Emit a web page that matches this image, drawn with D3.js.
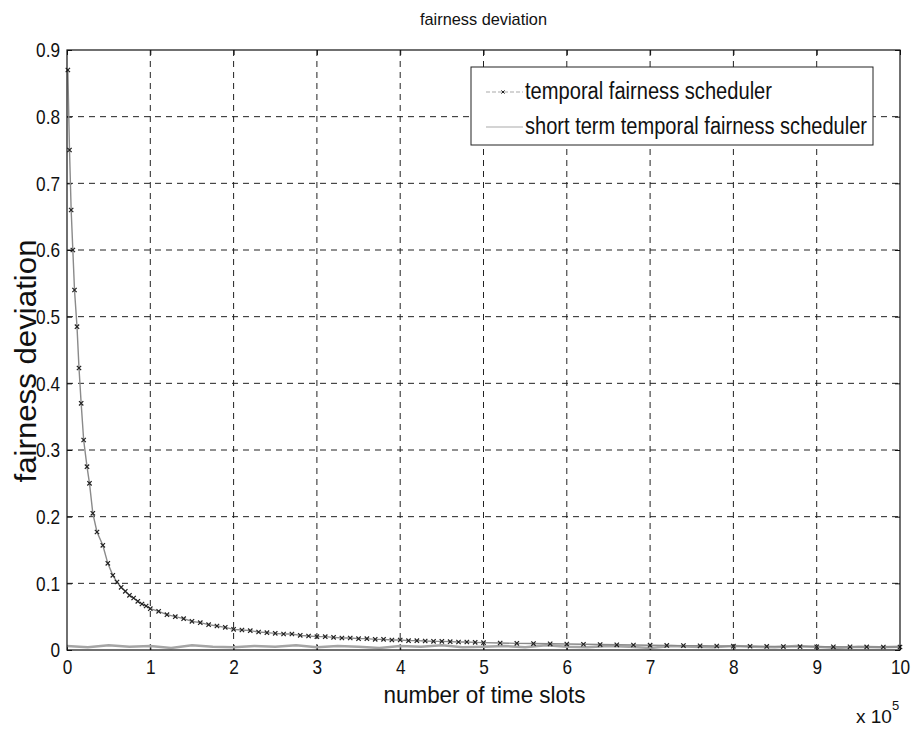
<!DOCTYPE html>
<html>
<head>
<meta charset="utf-8">
<script src="https://cdn.jsdelivr.net/npm/d3@7/dist/d3.min.js"></script>
<style>
  html, body { margin: 0; padding: 0; background: #fff; }
  svg { display: block; }
  text { font-family: "Liberation Sans", Arial, sans-serif; fill: #111; }
</style>
</head>
<body>
<svg id="chart" width="916" height="733"></svg>
<script>
// x in units of 1e5 time slots
const xTicks = [0, 1, 2, 3, 4, 5, 6, 7, 8, 9, 10];
const yTicks = [0, 0.1, 0.2, 0.3, 0.4, 0.5, 0.6, 0.7, 0.8, 0.9];
const yTickLabels = ["0", "0.1", "0.2", "0.3", "0.4", "0.5", "0.6", "0.7", "0.8", "0.9"];

// temporal fairness scheduler
const temporalX = [0.01, 0.03, 0.05, 0.07, 0.09, 0.12, 0.144, 0.17, 0.20, 0.24, 0.27, 0.31, 0.36, 0.43, 0.49, 0.55,
  0.6, 0.65, 0.7, 0.75, 0.8, 0.85, 0.9, 0.95, 1.0, 1.1, 1.2, 1.3, 1.4, 1.5, 1.6, 1.7, 1.8, 1.9, 2.0,
  2.1, 2.2, 2.3, 2.4, 2.5, 2.6, 2.7, 2.8, 2.9, 3.0, 3.1, 3.2, 3.3, 3.4, 3.5, 3.6, 3.7, 3.8, 3.9, 4.0,
  4.1, 4.2, 4.3, 4.4, 4.5, 4.6, 4.7, 4.8, 4.9, 5.0, 5.2, 5.4, 5.6, 5.8, 6.0, 6.2, 6.4, 6.6,
  6.8, 7.0, 7.2, 7.4, 7.6, 7.8, 8.0, 8.2, 8.4, 8.6, 8.8, 9.0, 9.2, 9.4, 9.6, 9.8, 10.0];
const temporalY = [0.87, 0.75, 0.66, 0.60, 0.54, 0.485, 0.423, 0.37, 0.315, 0.275, 0.25, 0.205, 0.177, 0.157, 0.13, 0.112,
  0.102, 0.094, 0.088, 0.082, 0.078, 0.073, 0.069, 0.066, 0.062, 0.058, 0.053, 0.050, 0.047, 0.043, 0.041, 0.038, 0.036, 0.034, 0.031,
  0.030, 0.029, 0.027, 0.026, 0.025, 0.024, 0.024, 0.022, 0.021, 0.020, 0.020, 0.019, 0.018, 0.018, 0.017, 0.017, 0.016, 0.016, 0.015, 0.015,
  0.014, 0.014, 0.0135, 0.013, 0.013, 0.0125, 0.012, 0.012, 0.0115, 0.011, 0.0105, 0.010, 0.0097, 0.0093, 0.009, 0.0086, 0.0082, 0.0078,
  0.0075, 0.0072, 0.0069, 0.0066, 0.0063, 0.006, 0.0058, 0.0056, 0.0054, 0.0052, 0.005, 0.0049, 0.0048, 0.0047, 0.0046, 0.0045, 0.0045];

// short term temporal fairness scheduler
const shortTermX = [0, 0.25, 0.5, 0.75, 1.0, 1.25, 1.5, 1.75, 2.0, 2.25, 2.5, 2.75, 3.0, 3.25, 3.5, 3.75, 4.0, 4.25, 4.5, 4.75,
  5.0, 5.25, 5.5, 5.75, 6.0, 6.25, 6.5, 6.75, 7.0, 7.25, 7.5, 7.75, 8.0, 8.25, 8.5, 8.75, 9.0, 9.25, 9.5, 9.75, 10.0];
const shortTermY = [0.006, 0.004, 0.007, 0.005, 0.006, 0.003, 0.007, 0.005, 0.004, 0.006, 0.005, 0.007, 0.004, 0.006, 0.005, 0.003, 0.006, 0.005, 0.007, 0.004,
  0.005, 0.006, 0.004, 0.007, 0.005, 0.004, 0.006, 0.005, 0.003, 0.006, 0.005, 0.004, 0.006, 0.005, 0.004, 0.006, 0.005, 0.003, 0.005, 0.004, 0.005];

const seriesNames = ["temporal fairness scheduler", "short term temporal fairness scheduler"];

const svg = d3.select("#chart");
const m = { left: 67, right: 16, top: 50, bottom: 83 };
const W = 916, H = 733;
const x = d3.scaleLinear().domain([0, 10]).range([m.left, W - m.right]);
const y = d3.scaleLinear().domain([0, 0.9]).range([H - m.bottom, m.top]);

// squeeze text horizontally to a condensed look
function narrow(sel, f) {
  sel.each(function () {
    const len = this.getComputedTextLength();
    d3.select(this).attr("textLength", len * f).attr("lengthAdjust", "spacingAndGlyphs");
  });
}
function fitWidth(sel, w) {
  sel.attr("textLength", w).attr("lengthAdjust", "spacingAndGlyphs");
}

// title
svg.append("text").attr("x", (x(0) + x(10)) / 2).attr("y", 25)
  .attr("text-anchor", "middle").style("font-size", "17px").text("fairness deviation").call(fitWidth, 127);

// dashed grid
const grid = svg.append("g").attr("stroke", "#222").attr("stroke-width", 1).attr("stroke-dasharray", "6,5");
grid.selectAll(".gx").data(xTicks.filter(d => d > 0 && d < 10)).join("line")
  .attr("x1", d => x(d)).attr("x2", d => x(d)).attr("y1", y(0)).attr("y2", y(0.9));
grid.selectAll(".gy").data(yTicks.filter(d => d > 0 && d < 0.9)).join("line")
  .attr("y1", d => y(d)).attr("y2", d => y(d)).attr("x1", x(0)).attr("x2", x(10));

// axes with inward ticks
const gx = svg.append("g").attr("transform", `translate(0,${y(0)})`)
  .call(d3.axisBottom(x).tickValues(xTicks).tickFormat(d3.format("d")).tickSizeInner(-5).tickSizeOuter(0).tickPadding(9));
const gxTop = svg.append("g").attr("transform", `translate(0,${y(0.9)})`)
  .call(d3.axisTop(x).tickValues(xTicks).tickFormat("").tickSizeInner(-5).tickSizeOuter(0));
const gy = svg.append("g").attr("transform", `translate(${x(0)},0)`)
  .call(d3.axisLeft(y).tickValues(yTicks).tickFormat((d, i) => yTickLabels[i]).tickSizeInner(-5).tickSizeOuter(0).tickPadding(7));
const gyR = svg.append("g").attr("transform", `translate(${x(10)},0)`)
  .call(d3.axisRight(y).tickValues(yTicks).tickFormat("").tickSizeInner(-5).tickSizeOuter(0));
[gx, gxTop, gy, gyR].forEach(g => {
  g.select(".domain").remove();
  g.selectAll(".tick line").attr("stroke", "#111");
  g.selectAll("text").style("font-size", "21px")
    .style("font-family", '"Liberation Sans", Arial, sans-serif').attr("fill", "#111")
    .call(narrow, 0.82);
});

// data lines
const line = d3.line().x(d => x(d[0])).y(d => y(d[1]));
const shortPts = shortTermX.map((v, i) => [v, shortTermY[i]]);
const tempPts = temporalX.map((v, i) => [v, temporalY[i]]);

svg.append("path").datum(shortPts).attr("d", line)
  .attr("fill", "none").attr("stroke", "#a5a5a5").attr("stroke-width", 2.5);
svg.append("path").datum(tempPts).attr("d", line)
  .attr("fill", "none").attr("stroke", "#8a8a8a").attr("stroke-width", 1.4);
svg.append("g").selectAll("path").data(tempPts).join("path")
  .attr("d", d3.symbol(d3.symbolTimes, 14))
  .attr("transform", d => `translate(${x(d[0])},${y(d[1])})`)
  .attr("fill", "none").attr("stroke", "#222").attr("stroke-width", 1.2);

// plot box
svg.append("rect").attr("x", x(0)).attr("y", y(0.9)).attr("width", x(10) - x(0)).attr("height", y(0) - y(0.9))
  .attr("fill", "none").attr("stroke", "#111").attr("stroke-width", 1.2);

// axis labels
svg.append("text").attr("x", (x(0) + x(10)) / 2 + 1).attr("y", 703)
  .attr("text-anchor", "middle").style("font-size", "24px").text("number of time slots").call(fitWidth, 202);
svg.append("text").attr("transform", `translate(36,361) rotate(-90)`)
  .attr("text-anchor", "middle").style("font-size", "30px").text("fairness deviation").call(fitWidth, 243);
const exp = svg.append("text").attr("x", 856).attr("y", 723).style("font-size", "19px");
exp.append("tspan").text("x 10");
exp.append("tspan").attr("dy", -13).style("font-size", "13px").text("5");

// legend
const lg = svg.append("g");
lg.append("rect").attr("x", 471).attr("y", 67).attr("width", 402).attr("height", 78)
  .attr("fill", "#fff").attr("stroke", "#222").attr("stroke-width", 1);
const rows = [92, 127];
const legendWidths = [247, 342];
rows.forEach((ry, i) => {
  lg.append("line").attr("x1", 486).attr("x2", 523).attr("y1", ry).attr("y2", ry)
    .attr("stroke", "#aaa").attr("stroke-width", 1.2).attr("stroke-dasharray", i === 0 ? "4,2" : null);
  if (i === 0) {
    lg.append("path").attr("d", d3.symbol(d3.symbolTimes, 8)).attr("transform", `translate(503,${ry})`)
      .attr("fill", "none").attr("stroke", "#222");
  }
  lg.append("text").attr("x", 525).attr("y", ry + 7).style("font-size", "23px").text(seriesNames[i]).call(fitWidth, legendWidths[i]);
});
</script>
</body>
</html>
